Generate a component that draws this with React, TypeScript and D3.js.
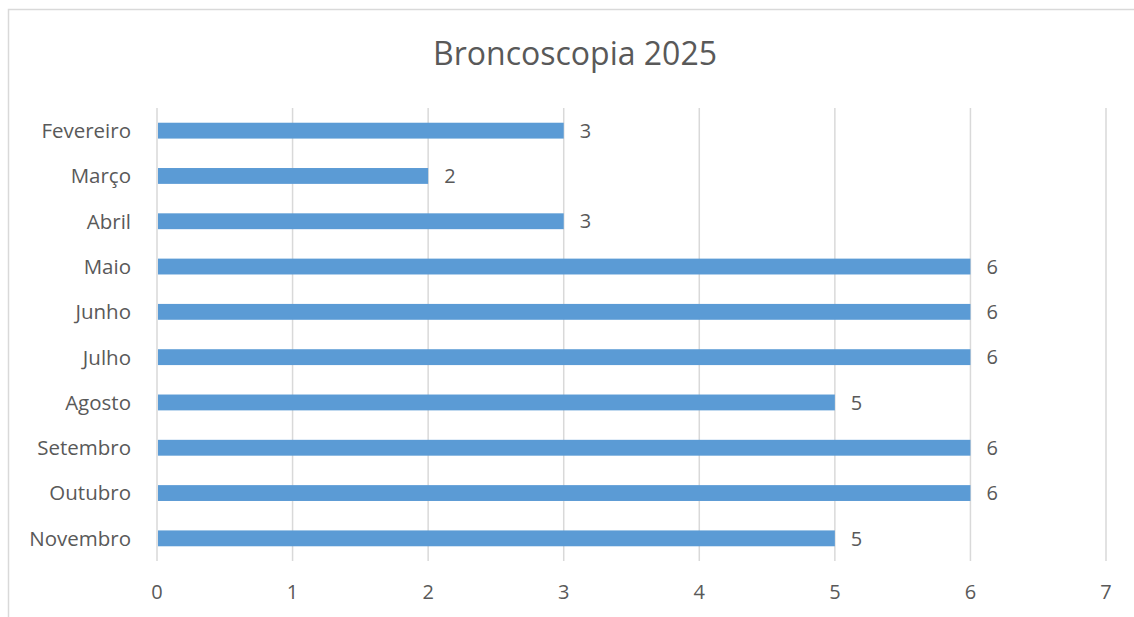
import * as React from "react"
import * as d3 from "d3"

const WIDTH = 1134
const HEIGHT = 617

const TITLE = "Broncoscopia 2025"
const months = ["Fevereiro", "Março", "Abril", "Maio", "Junho", "Julho", "Agosto", "Setembro", "Outubro", "Novembro"]
const counts = [3, 2, 3, 6, 6, 6, 5, 6, 6, 5]
const xTicks = [0, 1, 2, 3, 4, 5, 6, 7]

const FONT = "'Open Sans', 'Liberation Sans', sans-serif"
const TEXT = "#595959"
const BAR = "#5b9bd5"
const GRID = "#d9d9d9"

const PLOT = { left: 157, right: 1106, top: 108, bottom: 561 }

export default function App() {
  const x = d3.scaleLinear().domain([0, 7]).range([PLOT.left, PLOT.right])
  const y = d3
    .scaleBand()
    .domain(months)
    .range([PLOT.top, PLOT.bottom])
    .paddingInner(0.65)
    .paddingOuter(0.325)

  return (
    <svg
      width={WIDTH}
      height={HEIGHT}
      style={{ position: "absolute", left: 0, top: 0 }}
      fontFamily={FONT}
    >
      <rect x={0} y={0} width={WIDTH} height={HEIGHT} fill="#fff" />
      {/* chart frame, cut off on the right and bottom */}
      <rect x={8.5} y={9.5} width={WIDTH} height={HEIGHT} fill="none" stroke={GRID} strokeWidth={1.5} />

      <text x={575} y={65} textAnchor="middle" fontSize={32} fill={TEXT}>
        {TITLE}
      </text>

      {xTicks.map(t => (
        <g key={t}>
          <line x1={x(t)} x2={x(t)} y1={PLOT.top} y2={PLOT.bottom} stroke={GRID} strokeWidth={1.5} />
          <text x={x(t)} y={599} textAnchor="middle" fontSize={20} fill={TEXT}>
            {t}
          </text>
        </g>
      ))}

      {months.map((m, i) => {
        const yc = (y(m) as number) + y.bandwidth() / 2
        return (
          <g key={m}>
            <rect
              x={x(0) + 1}
              y={y(m)}
              width={x(counts[i]) - x(0) - 1}
              height={y.bandwidth()}
              fill={BAR}
            />
            <text x={131} y={yc} dy="0.36em" textAnchor="end" fontSize={20.5} fill={TEXT}>
              {m}
            </text>
            <text x={x(counts[i]) + 16} y={yc} dy="0.36em" fontSize={20} fill={TEXT}>
              {counts[i]}
            </text>
          </g>
        )
      })}
    </svg>
  )
}
